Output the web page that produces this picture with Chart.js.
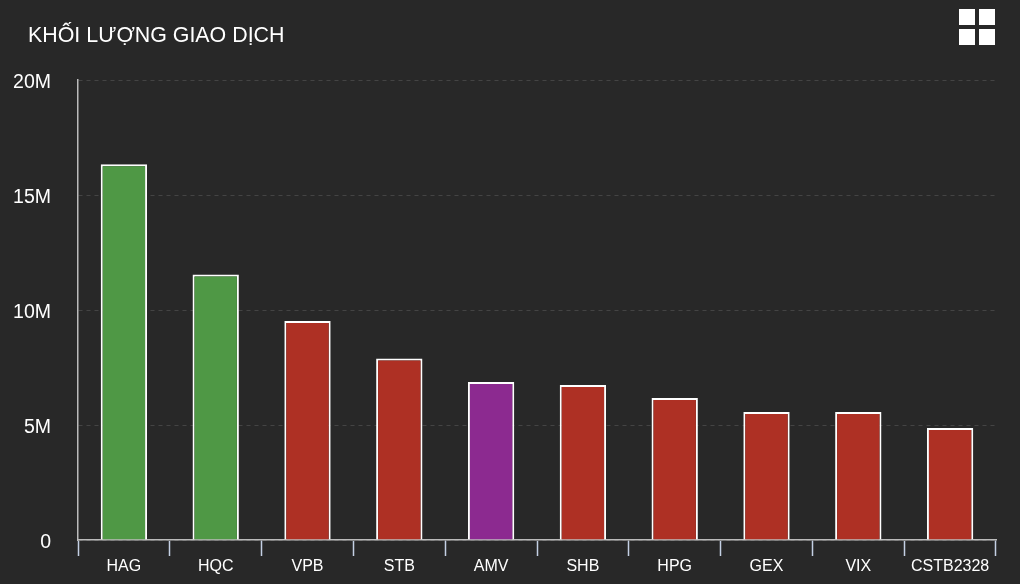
<!DOCTYPE html>
<html lang="vi">
<head>
<meta charset="utf-8">
<title>KHỐI LƯỢNG GIAO DỊCH</title>
<script src="https://cdn.jsdelivr.net/npm/chart.js@4"></script>
<style>
html,body{margin:0;padding:0;background:#282828;overflow:hidden}
#wrap{position:relative;width:1020px;height:584px;background:#282828}
#title{position:absolute;left:28px;top:22px;font:21.4px/26px "Liberation Sans",Arial,sans-serif;color:#fff;white-space:nowrap}
#icon{position:absolute;left:959px;top:9px;width:36px;height:36px;display:grid;grid-template-columns:16px 16px;grid-template-rows:16px 16px;gap:4px}
#icon i{display:block;background:#fff}
canvas{position:absolute;left:0;top:0}
</style>
</head>
<body>
<div id="wrap">
<canvas id="c" width="1020" height="584"></canvas>
<div id="title">KHỐI LƯỢNG GIAO DỊCH</div>
<div id="icon"><i></i><i></i><i></i><i></i></div>
</div>
<script>
const categories = ["HAG","HQC","VPB","STB","AMV","SHB","HPG","GEX","VIX","CSTB2328"];
const volumes = [16340000,11540000,9520000,7890000,6870000,6740000,6170000,5560000,5560000,4870000];
const barColors = ["#4f9845","#4f9845","#ae3024","#ae3024","#8c2a90","#ae3024","#ae3024","#ae3024","#ae3024","#ae3024"];
const yTickValues = [0,5000000,10000000,15000000,20000000];
const fontFamily = '"Liberation Sans", Arial, sans-serif';

new Chart(document.getElementById('c'), {
  type: 'bar',
  data: {
    labels: categories,
    datasets: [{
      data: volumes,
      backgroundColor: barColors,
      borderColor: '#ffffff',
      borderWidth: 2,
      barPercentage: 0.505,
      categoryPercentage: 1
    }]
  },
  options: {
    responsive: false,
    animation: false,
    events: [],
    layout: { padding: { top: 80, right: 24, bottom: 0, left: 0 } },
    plugins: { legend: { display: false }, tooltip: { enabled: false }, title: { display: false } },
    scales: {
      x: {
        grid: { drawOnChartArea: false, drawTicks: true, tickLength: 16, tickColor: '#c4d0e4', tickWidth: 1.5 },
        border: { color: '#bbbbbb', width: 1.5 },
        ticks: { color: '#ffffff', font: { family: fontFamily, size: 16 }, padding: 1, maxRotation: 0, autoSkip: false },
        afterFit(s) { s.height = 44; }
      },
      y: {
        min: 0, max: 20000000,
        afterBuildTicks(s) { s.ticks = yTickValues.map(v => ({ value: v })); },
        grid: { color: '#444444', lineWidth: 1, drawTicks: false },
        border: { color: '#bbbbbb', width: 1.5, dash: [4, 4], display: true },
        ticks: {
          color: '#ffffff', padding: 27, labelOffset: 3,
          font: { family: fontFamily, size: 19.5 },
          callback(v) { return v === 0 ? '0' : (v / 1000000) + 'M'; }
        },
        afterFit(s) { s.width = 78; }
      }
    }
  }
});
</script>
</body>
</html>
